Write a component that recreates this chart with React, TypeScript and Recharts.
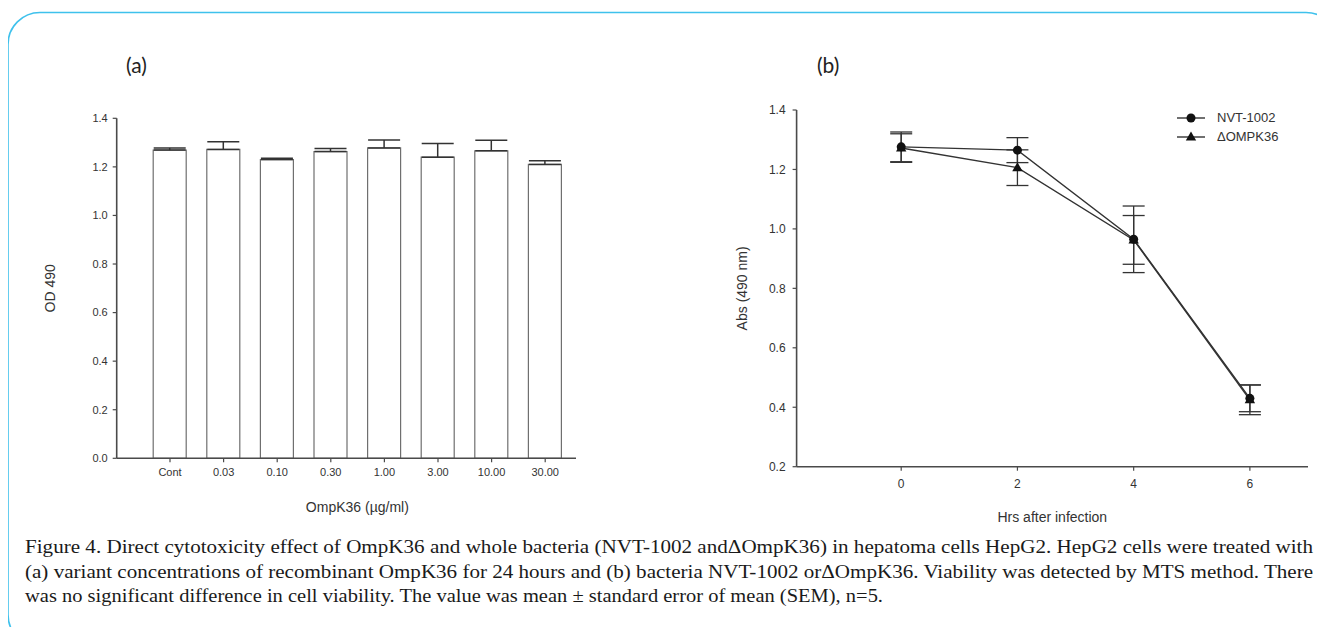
import React from "react";
import {
  BarChart,
  Bar,
  LineChart,
  Line,
  XAxis,
  YAxis,
  ErrorBar,
  Legend,
} from "recharts";

// (a) OmpK36 dose vs OD 490 (mean, upper SEM only)
const doses = ["Cont", "0.03", "0.10", "0.30", "1.00", "3.00", "10.00", "30.00"];
const odMeans = [1.269, 1.272, 1.23, 1.263, 1.278, 1.24, 1.266, 1.21];
const odSem = [0.009, 0.031, 0.005, 0.013, 0.033, 0.056, 0.044, 0.015];
const odTicks = [0, 0.2, 0.4, 0.6, 0.8, 1.0, 1.2, 1.4];

// (b) hours after infection vs Abs (490 nm)
const hours = [0, 2, 4, 6];
const nvtMeans = [1.276, 1.265, 0.965, 0.43];
const nvtSem = [0.05, 0.042, 0.112, 0.045];
const mutMeans = [1.272, 1.206, 0.963, 0.425];
const mutSem = [0.048, 0.06, 0.082, 0.05];
const absTicks = [0.2, 0.4, 0.6, 0.8, 1.0, 1.2, 1.4];

const legendItems = [
  { label: "NVT-1002", shape: "circle" },
  { label: "\u0394OMPK36", shape: "triangle" },
];

const captionLines = [
  "Figure 4. Direct cytotoxicity effect of OmpK36 and whole bacteria (NVT-1002 and\u0394OmpK36) in hepatoma cells HepG2. HepG2 cells were treated with",
  "(a) variant concentrations of recombinant OmpK36 for 24 hours and (b) bacteria NVT-1002 or\u0394OmpK36. Viability was detected by MTS method. There",
  "was no significant difference in cell viability. The value was mean \u00b1 standard error of mean (SEM), n=5.",
];
const captionWidths = [1288, 1288, 858];

const barData = doses.map((d, i) => ({ dose: d, od: odMeans[i], err: [0, odSem[i]] }));
const lineData = hours.map((h, i) => ({
  h,
  nvt: nvtMeans[i],
  nvtErr: nvtSem[i],
  mut: mutMeans[i],
  mutErr: mutSem[i],
}));

const axisFont = "'Liberation Sans', Arial, sans-serif";
const axisColor = "#4a4a4a";

const Triangle = (props: any) => {
  const { cx, cy, index } = props;
  if (cx == null || cy == null) return null;
  return (
    <path
      key={"tri-" + index}
      d={`M${cx},${cy - 5.5}L${cx + 5.2},${cy + 3.5}L${cx - 5.2},${cy + 3.5}Z`}
      fill="#111"
    />
  );
};

const yTitle = (text: string, dx: number) => (props: any) => {
  const vb = props.viewBox;
  const x = vb.x + dx;
  const y = vb.y + vb.height / 2;
  return (
    <text
      x={x}
      y={y}
      transform={`rotate(-90 ${x} ${y})`}
      textAnchor="middle"
      dominantBaseline="central"
      fontSize={14}
      fontFamily={axisFont}
      fill="#333"
    >
      {text}
    </text>
  );
};

const xTitle = (text: string, dx: number, dy: number) => (props: any) => {
  const vb = props.viewBox;
  return (
    <text
      x={vb.x + vb.width / 2 + dx}
      y={vb.y + dy}
      textAnchor="middle"
      dominantBaseline="central"
      fontSize={14}
      fontFamily={axisFont}
      fill="#333"
    >
      {text}
    </text>
  );
};

const LegendBox = () => (
  <div style={{ fontFamily: axisFont, fontSize: 13, color: "#333" }}>
    {legendItems.map((it) => (
      <div key={it.label} style={{ display: "flex", alignItems: "center", height: 19 }}>
        <svg width={30} height={14}>
          <line x1={0} y1={7} x2={28} y2={7} stroke="#333" strokeWidth={1.4} />
          {it.shape === "circle" ? (
            <circle cx={14} cy={7} r={4.5} fill="#111" />
          ) : (
            <path d="M14,1.5L19.2,10.5L8.8,10.5Z" fill="#111" />
          )}
        </svg>
        <span style={{ marginLeft: 10 }}>{it.label}</span>
      </div>
    ))}
  </div>
);

export default function App() {
  return (
    <div
      style={{
        position: "relative",
        width: 1325,
        height: 635,
        margin: -8,
        overflow: "hidden",
        background: "#fff",
      }}
    >
      <svg width={1325} height={635} style={{ position: "absolute", left: 0, top: 0 }}>
        <rect
          x={8}
          y={12.5}
          width={1330}
          height={634}
          rx={32}
          ry={32}
          fill="none"
          stroke="#3fc1ec"
          strokeWidth={1.6}
        />
        {captionLines.map((t, i) => (
          <text
            key={i}
            x={25}
            y={553 + i * 24.5}
            fontFamily="'Liberation Serif', 'Times New Roman', serif"
            fontSize={18}
            fill="#1a1a1a"
            textLength={captionWidths[i]}
            lengthAdjust="spacingAndGlyphs"
          >
            {t}
          </text>
        ))}
      </svg>

      <div style={{ position: "absolute", left: 126, top: 52, fontFamily: "Lato, 'Open Sans', sans-serif", fontSize: 21, color: "#222" }}>
        (a)
      </div>
      <div style={{ position: "absolute", left: 817, top: 52, fontFamily: "Lato, 'Open Sans', sans-serif", fontSize: 21, color: "#222" }}>
        (b)
      </div>

      <div style={{ position: "absolute", left: 0, top: 0 }}>
        <BarChart
          width={600}
          height={530}
          data={barData}
          margin={{ top: 118.3, right: 24, bottom: 11.7, left: 46.7 }}
        >
          <XAxis
            dataKey="dose"
            height={60}
            padding={{ left: 26.5, right: 4 }}
            tickSize={4}
            tickMargin={6}
            axisLine={{ stroke: axisColor, strokeWidth: 1.6 }}
            tickLine={{ stroke: axisColor, strokeWidth: 1.2 }}
            tick={{ fontSize: 11, fill: "#333", fontFamily: axisFont }}
            interval={0}
            label={{ content: xTitle("OmpK36 (\u00b5g/ml)", 11, 49) }}
          />
          <YAxis
            width={70}
            domain={[0, 1.4]}
            ticks={odTicks}
            tickFormatter={(v: number) => v.toFixed(1)}
            tickSize={4}
            tickMargin={5}
            axisLine={{ stroke: axisColor, strokeWidth: 1.6 }}
            tickLine={{ stroke: axisColor, strokeWidth: 1.2 }}
            tick={{ fontSize: 11, fill: "#333", fontFamily: axisFont }}
            label={{ content: yTitle("OD 490", 3) }}
          />
          <Bar
            dataKey="od"
            fill="#fff"
            stroke="#6f6f6f"
            strokeWidth={1.2}
            barSize={33}
            isAnimationActive={false}
          >
            <ErrorBar dataKey="err" width={16} stroke="#333" strokeWidth={1.5} direction="y" />
          </Bar>
        </BarChart>
      </div>

      <div style={{ position: "absolute", left: 650, top: 0 }}>
        <LineChart
          width={675}
          height={540}
          data={lineData}
          margin={{ top: 110, right: 17, bottom: 23.3, left: 86.6 }}
        >
          <XAxis
            dataKey="h"
            type="number"
            domain={[-1.8, 7]}
            ticks={hours}
            allowDataOverflow
            height={50}
            tickSize={4}
            tickMargin={9}
            axisLine={{ stroke: axisColor, strokeWidth: 1.6 }}
            tickLine={{ stroke: axisColor, strokeWidth: 1.2 }}
            tick={{ fontSize: 12, fill: "#333", fontFamily: axisFont }}
            label={{ content: xTitle("Hrs after infection", 0, 50) }}
          />
          <YAxis
            width={60}
            domain={[0.2, 1.4]}
            ticks={absTicks}
            tickFormatter={(v: number) => v.toFixed(1)}
            tickSize={4}
            tickMargin={7}
            axisLine={{ stroke: axisColor, strokeWidth: 1.6 }}
            tickLine={{ stroke: axisColor, strokeWidth: 1.2 }}
            tick={{ fontSize: 12, fill: "#333", fontFamily: axisFont }}
            label={{ content: yTitle("Abs (490 nm)", 5.5) }}
          />
          <Legend
            layout="vertical"
            align="center"
            verticalAlign="middle"
            content={() => <LegendBox />}
            wrapperStyle={{ position: "absolute", left: 527, top: 108, width: 140 }}
          />
          <Line
            dataKey="nvt"
            name="NVT-1002"
            stroke="#333"
            strokeWidth={1.4}
            dot={{ r: 4.5, fill: "#111", stroke: "#111", strokeWidth: 0 }}
            isAnimationActive={false}
          >
            <ErrorBar dataKey="nvtErr" width={11} stroke="#333" strokeWidth={1.3} direction="y" />
          </Line>
          <Line
            dataKey="mut"
            name={"\u0394OMPK36"}
            stroke="#333"
            strokeWidth={1.4}
            dot={Triangle}
            isAnimationActive={false}
          >
            <ErrorBar dataKey="mutErr" width={11} stroke="#333" strokeWidth={1.3} direction="y" />
          </Line>
        </LineChart>
      </div>
    </div>
  );
}
